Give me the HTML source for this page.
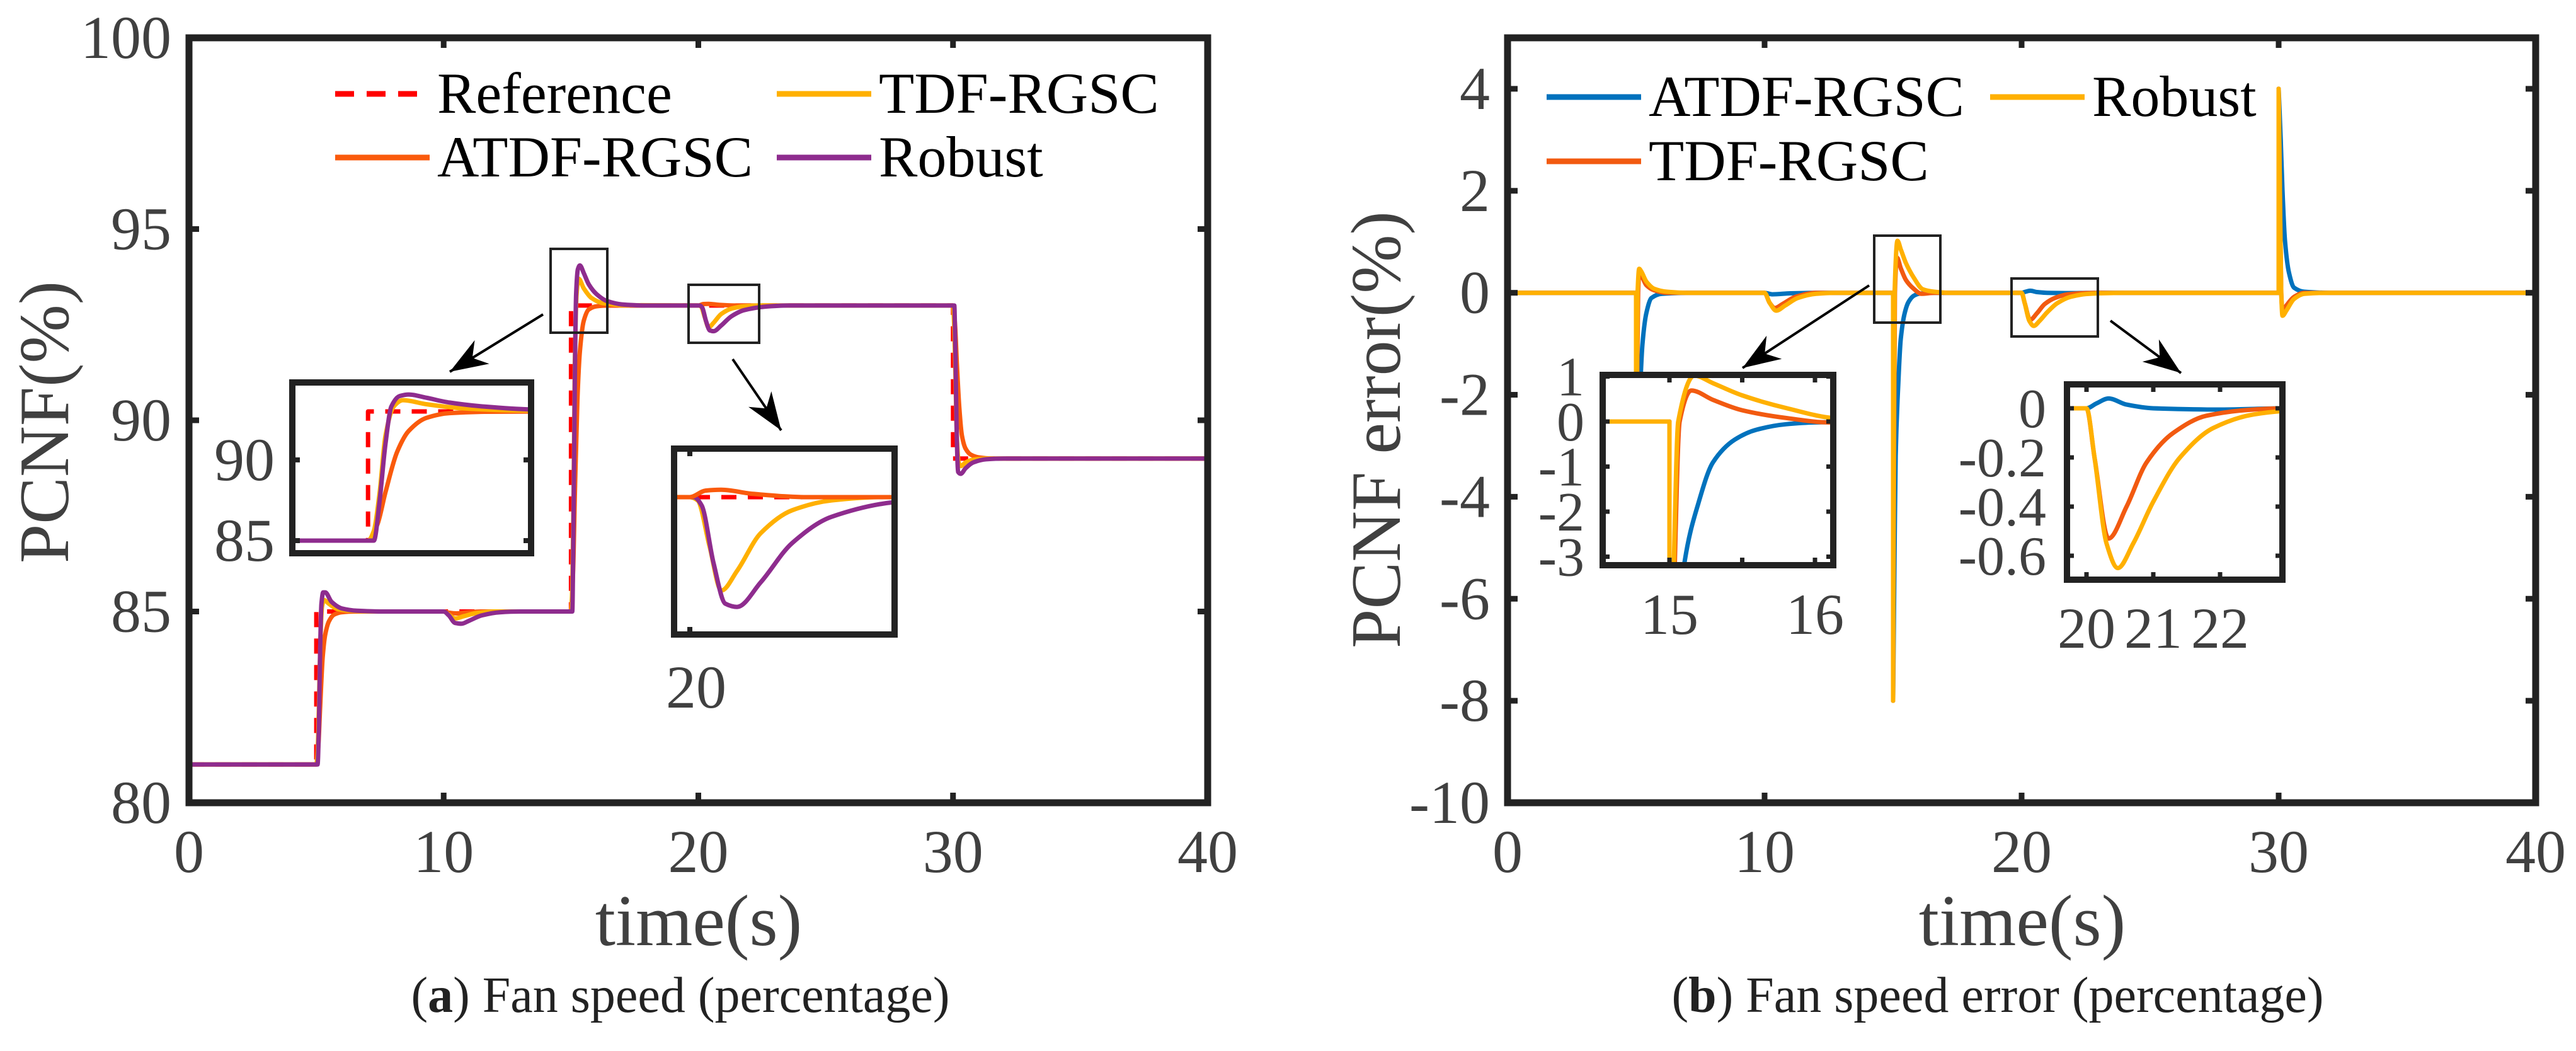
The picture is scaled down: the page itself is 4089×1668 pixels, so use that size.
<!DOCTYPE html>
<html><head><meta charset="utf-8"><style>
html,body{margin:0;padding:0;background:#fff;width:4089px;height:1668px;overflow:hidden;}
svg{display:block;}
text{font-family:"Liberation Serif",serif;}
</style></head>
<body>
<svg id="fig" width="4089" height="1668" viewBox="0 0 4089 1668" xmlns="http://www.w3.org/2000/svg" font-family="Liberation Serif, serif">
<defs>
<clipPath id="cA"><rect x="300" y="60" width="1617" height="1214"/></clipPath>
<clipPath id="cA1"><rect x="464" y="607" width="379" height="271"/></clipPath>
<clipPath id="cA2"><rect x="1070" y="712" width="350" height="295"/></clipPath>
<clipPath id="cB"><rect x="2393" y="60" width="1632" height="1214"/></clipPath>
<clipPath id="cB1"><rect x="2544" y="595" width="366" height="302"/></clipPath>
<clipPath id="cB2"><rect x="3281" y="610" width="342" height="310"/></clipPath>
</defs>
<g id="root"></g>
</svg>
<script>
// ---------- data: panel (a) fan speed ----------
const xTicksMain = [0, 10, 20, 30, 40];
const yTicksA = [80, 85, 90, 95, 100];
const yTicksB = [-10, -8, -6, -4, -2, 0, 2, 4];
const refA = [[0,81],[5,81],[5,85],[15,85],[15,93],[30,93],[30,89],[40,89]];
const atdfA = [[0,81],[5,81],[5.08,81.5],[5.15,82.5],[5.25,83.8],[5.35,84.4],[5.5,84.75],[5.7,84.92],[6,84.98],[6.5,85],
 [10,85],[10.2,84.97],[10.5,84.95],[11,84.98],[11.5,85],
 [15,85],[15.08,86],[15.15,88],[15.25,90.5],[15.35,91.8],[15.5,92.6],[15.7,92.9],[16,92.98],[16.5,93],
 [20,93],[20.2,93.04],[20.4,93.045],[20.8,93.02],[21.5,93],
 [30,93],[30.08,92.5],[30.15,91.5],[30.25,90.3],[30.35,89.6],[30.5,89.25],[30.7,89.1],[31,89.03],[31.5,89],[40,89]];
const tdfA = [[0,81],[5,81],[5.05,81.3],[5.1,82.5],[5.15,84],[5.22,85.1],[5.3,85.3],[5.5,85.2],[5.8,85.07],[6.3,85.02],[7,85],
 [10,85],[10.2,84.92],[10.45,84.82],[10.8,84.88],[11.3,84.96],[12,85],
 [15,85],[15.05,85.6],[15.1,88],[15.15,91.5],[15.22,93.3],[15.3,93.7],[15.5,93.45],[15.8,93.2],[16.2,93.07],[16.4,93.05],[17,93.01],
 [20,93],[20.1,92.98],[20.25,92.7],[20.4,92.43],[20.6,92.55],[20.9,92.78],[21.3,92.92],[21.8,92.98],[22.4,93],
 [30,93],[30.05,92.4],[30.1,91],[30.15,89.6],[30.22,88.9],[30.3,88.8],[30.5,88.9],[30.8,88.97],[31.3,89],[40,89]];
const robustA = [[0,81],[5.05,81],[5.1,82],[5.15,84],[5.2,85.2],[5.27,85.5],[5.35,85.5],[5.6,85.25],[6,85.08],[6.6,85.02],[7.5,85],
 [10,85],[10.2,84.9],[10.45,84.7],[10.7,84.68],[11,84.76],[11.5,84.9],[12.2,84.98],[13,85],
 [15.05,85],[15.1,87.5],[15.15,91],[15.2,93.3],[15.27,93.95],[15.35,94.05],[15.5,93.85],[15.7,93.55],[16,93.3],[16.4,93.12],[17,93.03],[18,93],
 [20.05,93],[20.15,92.95],[20.3,92.6],[20.45,92.35],[20.6,92.33],[20.9,92.48],[21.3,92.72],[21.8,92.88],[22.6,92.97],[23.5,93],
 [30.05,93],[30.1,91.5],[30.15,89.5],[30.2,88.65],[30.3,88.6],[30.5,88.75],[30.8,88.9],[31.3,88.98],[32,89],[40,89]];
// ---------- data: panel (b) fan speed error ----------
const atdfB = [[0,0],[5,0],[5,-4],[5.08,-3],[5.15,-2],[5.25,-1],[5.4,-0.4],[5.6,-0.1],[6,-0.02],[7,0],
 [10,0],[10.3,-0.03],[11,-0.01],[12,0],
 [15,0],[15,-8],[15.06,-5],[15.1,-3.2],[15.2,-1.8],[15.3,-0.9],[15.45,-0.4],[15.6,-0.18],[15.8,-0.06],[16,-0.02],[16.5,0],
 [20,0],[20.15,0.02],[20.33,0.04],[20.6,0.015],[21,0],[22,-0.005],[23,0],
 [30,0],[30,4],[30.08,3],[30.15,2],[30.25,1],[30.4,0.4],[30.6,0.1],[31,0.02],[32,0],[40,0]];
const tdfB = [[0,0],[5,0],[5,-4],[5.04,-2],[5.08,0],[5.13,0.4],[5.2,0.35],[5.4,0.15],[5.7,0.05],[6.2,0],
 [10,0],[10.2,-0.2],[10.4,-0.3],[10.7,-0.22],[11.2,-0.08],[12,0],
 [15,0],[15,-8],[15.03,-4],[15.07,0],[15.15,0.69],[15.3,0.48],[15.5,0.25],[15.8,0.08],[16.1,-0.02],[16.6,0],
 [20,0],[20.12,-0.2],[20.33,-0.53],[20.6,-0.4],[20.9,-0.22],[21.3,-0.1],[21.8,-0.03],[22.5,-0.005],[23,0],
 [30,0],[30,4],[30.05,2],[30.1,0],[30.15,-0.35],[30.3,-0.25],[30.6,-0.08],[31,0],[40,0]];
const robustB = [[0,0],[5,0],[5,-4],[5.03,-2],[5.06,0],[5.12,0.47],[5.2,0.42],[5.4,0.22],[5.7,0.08],[6.2,0.02],[7,0],
 [10,0],[10.2,-0.2],[10.45,-0.35],[10.8,-0.25],[11.3,-0.1],[12,-0.02],[12.8,0],
 [15,0],[15,-8],[15.03,-3.2],[15.06,0],[15.17,1.02],[15.3,0.85],[15.5,0.58],[15.8,0.3],[16.15,0.07],[16.6,0.02],[17.2,0],
 [20,0],[20.12,-0.2],[20.3,-0.55],[20.47,-0.65],[20.7,-0.55],[21,-0.38],[21.4,-0.2],[21.9,-0.08],[22.5,-0.025],[23,-0.01],[24,0],
 [30,0],[30,4],[30.05,2],[30.1,0],[30.15,-0.45],[30.3,-0.35],[30.6,-0.12],[31,-0.02],[32,0],[40,0]];

const NS = "http://www.w3.org/2000/svg";
const root = document.getElementById('root');
function el(tag, attrs, parent) {
  const e = document.createElementNS(NS, tag);
  for (const k in attrs) e.setAttribute(k, attrs[k]);
  (parent || root).appendChild(e);
  return e;
}
function lin(d0, d1, r0, r1) { return v => r0 + (v - d0) / (d1 - d0) * (r1 - r0); }
// monotone cubic path (Fritsch-Carlson), vertical steps drawn straight
function pathD(data, sx, sy, smooth) {
  const n = data.length;
  const P = data.map(p => [sx(p[0]), sy(p[1])]);
  if (!smooth) return P.map((p, i) => (i ? 'L' : 'M') + p[0].toFixed(1) + ',' + p[1].toFixed(1)).join('');
  const d = [];
  for (let i = 0; i < n - 1; i++) { const dx = P[i+1][0] - P[i][0]; d.push(dx > 0.01 ? (P[i+1][1] - P[i][1]) / dx : null); }
  const m = [];
  for (let i = 0; i < n; i++) {
    const a = i > 0 ? d[i-1] : null, b = i < n - 1 ? d[i] : null;
    if (a === null && b === null) m.push(0);
    else if (a === null) m.push(b);
    else if (b === null) m.push(a);
    else if (a * b <= 0) m.push(0);
    else m.push(2 * a * b / (a + b));
  }
  let s = 'M' + P[0][0].toFixed(1) + ',' + P[0][1].toFixed(1);
  for (let i = 0; i < n - 1; i++) {
    const dx = P[i+1][0] - P[i][0];
    if (d[i] === null) { s += 'L' + P[i+1][0].toFixed(1) + ',' + P[i+1][1].toFixed(1); continue; }
    const h = dx / 3;
    s += 'C' + (P[i][0] + h).toFixed(1) + ',' + (P[i][1] + m[i] * h).toFixed(1) + ' ' +
         (P[i+1][0] - h).toFixed(1) + ',' + (P[i+1][1] - m[i+1] * h).toFixed(1) + ' ' +
         P[i+1][0].toFixed(1) + ',' + P[i+1][1].toFixed(1);
  }
  return s;
}
function txt(s, x, y, size, anchor, parent, fill) {
  const t = el('text', {x: x, y: y, 'font-size': size, 'text-anchor': anchor || 'middle', fill: fill || '#404040', 'font-family': 'Liberation Serif, serif'}, parent);
  t.textContent = s; return t;
}
function series(g, data, sx, sy, color, w, dash, name) {
  const p = el('path', {d: pathD(data, sx, sy, !dash), fill: 'none', stroke: color, 'stroke-width': w, 'stroke-linejoin': 'round'}, g);
  if (dash) p.setAttribute('stroke-dasharray', dash);
  
  
  return p;
}
function frame(x0, y0, x1, y1, w, name) {
  const r = el('rect', {x: x0, y: y0, width: x1 - x0, height: y1 - y0, fill: 'none', stroke: '#222', 'stroke-width': w});
  
  
  return r;
}
function whiteBox(x0, y0, x1, y1) { el('rect', {x: x0, y: y0, width: x1 - x0, height: y1 - y0, fill: '#fff'}); }
function arrow(x1, y1, x2, y2, name) {
  const a = el('line', {x1: x1, y1: y1, x2: x2, y2: y2, stroke: '#000', 'stroke-width': 4});
  const dx = x2 - x1, dy = y2 - y1, L = Math.hypot(dx, dy), ux = dx / L, uy = dy / L;
  const bx = x2 - ux * 60, by = y2 - uy * 60;
  const h = el('polygon', {points: `${x2},${y2} ${bx - uy * 22},${by + ux * 22} ${x2 - ux * 42},${y2 - uy * 42} ${bx + uy * 22},${by - ux * 22}`, fill: '#000'});
  
  
  
  
}
function legendEntry(x, y, color, label, dash, name) {
  const g = el('g', {});
  
  
  const l = el('line', {x1: x, y1: y, x2: x + 150, y2: y, stroke: color, 'stroke-width': 9}, g);
  if (dash) l.setAttribute('stroke-dasharray', dash);
  txt(label, x + 162, y + 30, 92, 'start', g, '#000');
}

// ===================== Panel (a) =====================
const AX0 = 300, AX1 = 1917, AY0 = 60, AY1 = 1274;
const sxA = lin(0, 40, AX0, AX1), syA = lin(80, 100, AY1, AY0);
const gA = el('g', {'clip-path': 'url(#cA)'});


series(gA, refA, sxA, syA, '#ff0000', 7, '24,18', 'reference-line');
series(gA, atdfA, sxA, syA, '#fa5a0c', 7, null, 'atdf-rgsc-line');
series(gA, tdfA, sxA, syA, '#ffb000', 7, null, 'tdf-rgsc-line');
series(gA, robustA, sxA, syA, '#8e2c8e', 7, null, 'robust-line');
xTicksMain.forEach(v => {
  const x = sxA(v);
  el('line', {x1: x, y1: AY1, x2: x, y2: AY1 - 16, stroke: '#222', 'stroke-width': 9});
  el('line', {x1: x, y1: AY0, x2: x, y2: AY0 + 16, stroke: '#222', 'stroke-width': 9});
  const t = txt(String(v), x, 1384, 96, 'middle');
  
  
});
yTicksA.forEach(v => {
  const y = syA(v);
  el('line', {x1: AX0, y1: y, x2: AX0 + 16, y2: y, stroke: '#222', 'stroke-width': 9});
  el('line', {x1: AX1, y1: y, x2: AX1 - 16, y2: y, stroke: '#222', 'stroke-width': 9});
  const t = txt(String(v), 272, y + 32, 96, 'end');
  
  
});
frame(AX0, AY0, AX1, AY1, 11, 'axes-frame-a');
frame(874, 395, 964, 528, 4, 'zoom-box-a1');
frame(1093, 452, 1205, 544, 4, 'zoom-box-a2');
arrow(862, 499, 714, 590, 'zoom-arrow-a1');
arrow(1163, 570, 1240, 683, 'zoom-arrow-a2');
// inset a1
whiteBox(459, 602, 848, 883);
const sxA1 = lin(14.35, 16.4, 464, 843), syA1 = lin(85, 93, 858, 653);
const gA1 = el('g', {'clip-path': 'url(#cA1)'});
series(gA1, refA, sxA1, syA1, '#ff0000', 7, '24,18', 'inset-a1-reference');
series(gA1, atdfA, sxA1, syA1, '#fa5a0c', 7, null, 'inset-a1-atdf');
series(gA1, tdfA, sxA1, syA1, '#ffb000', 7, null, 'inset-a1-tdf');
series(gA1, robustA, sxA1, syA1, '#8e2c8e', 7, null, 'inset-a1-robust');
frame(464, 607, 843, 878, 10, 'inset-a1-frame');
[85, 90].forEach(v => {
  el('line', {x1: 464, y1: syA1(v), x2: 476, y2: syA1(v), stroke: '#222', 'stroke-width': 8});
  el('line', {x1: 843, y1: syA1(v), x2: 831, y2: syA1(v), stroke: '#222', 'stroke-width': 8});
  const t = txt(String(v), 436, syA1(v) + 32, 96, 'end');
  
  
});
// inset a2
whiteBox(1065, 707, 1425, 1012);
const sxA2 = lin(19.8, 22.6, 1070, 1420), syA2 = lin(93, 92, 789, 1049);
const gA2 = el('g', {'clip-path': 'url(#cA2)'});
series(gA2, refA, sxA2, syA2, '#ff0000', 7, '24,18', 'inset-a2-reference');
series(gA2, tdfA, sxA2, syA2, '#ffb000', 7, null, 'inset-a2-tdf');
series(gA2, robustA, sxA2, syA2, '#8e2c8e', 7, null, 'inset-a2-robust');
series(gA2, atdfA, sxA2, syA2, '#fa5a0c', 7, null, 'inset-a2-atdf');
frame(1070, 712, 1420, 1007, 10, 'inset-a2-frame');
el('line', {x1: sxA2(20), y1: 712, x2: sxA2(20), y2: 724, stroke: '#222', 'stroke-width': 8});
el('line', {x1: sxA2(20), y1: 1007, x2: sxA2(20), y2: 995, stroke: '#222', 'stroke-width': 8});
{ const t = txt('20', 1105, 1123, 96, 'middle');   }
legendEntry(532, 149, '#ff0000', 'Reference', '30,20', 'legend-reference');
legendEntry(1233, 149, '#ffb000', 'TDF-RGSC', null, 'legend-tdf-rgsc-a');
legendEntry(532, 250, '#fa5a0c', 'ATDF-RGSC', null, 'legend-atdf-rgsc-a');
legendEntry(1233, 250, '#8e2c8e', 'Robust', null, 'legend-robust-a');
{ const t = txt('PCNF(%)', 0, 0, 112, 'middle'); t.setAttribute('transform', 'translate(108,670) rotate(-90)');
    }
{ const t = txt('time(s)', 1109, 1500, 116, 'middle');   }
{ const t = el('text', {x: 1080, y: 1606, 'font-size': 80, 'text-anchor': 'middle', fill: '#222', 'font-family': 'Liberation Serif, serif'});
  t.innerHTML = '(<tspan font-weight="bold">a</tspan>) Fan speed (percentage)';
    }

// ===================== Panel (b) =====================
const BX0 = 2393, BX1 = 4025, BY0 = 60, BY1 = 1274;
const sxB = lin(0, 40, BX0, BX1), syB = lin(-10, 5, BY1, BY0);
const gB = el('g', {'clip-path': 'url(#cB)'});


series(gB, atdfB, sxB, syB, '#0072bd', 7, null, 'error-atdf-rgsc-line');
series(gB, tdfB, sxB, syB, '#f25a10', 7, null, 'error-tdf-rgsc-line');
series(gB, robustB, sxB, syB, '#ffb000', 7, null, 'error-robust-line');
xTicksMain.forEach(v => {
  const x = sxB(v);
  el('line', {x1: x, y1: BY1, x2: x, y2: BY1 - 16, stroke: '#222', 'stroke-width': 9});
  el('line', {x1: x, y1: BY0, x2: x, y2: BY0 + 16, stroke: '#222', 'stroke-width': 9});
  const t = txt(String(v), x, 1384, 96, 'middle');
  
  
});
yTicksB.forEach(v => {
  const y = syB(v);
  el('line', {x1: BX0, y1: y, x2: BX0 + 16, y2: y, stroke: '#222', 'stroke-width': 9});
  el('line', {x1: BX1, y1: y, x2: BX1 - 16, y2: y, stroke: '#222', 'stroke-width': 9});
  const t = txt(String(v), 2365, y + 32, 96, 'end');
  
  
});
frame(BX0, BY0, BX1, BY1, 11, 'axes-frame-b');
frame(2975, 374, 3080, 512, 4, 'zoom-box-b1');
frame(3193, 442, 3330, 534, 4, 'zoom-box-b2');
arrow(2967, 453, 2766, 584, 'zoom-arrow-b1');
arrow(3350, 509, 3462, 592, 'zoom-arrow-b2');
// inset b1
whiteBox(2539, 590, 2915, 902);
const sxB1 = lin(15, 16, 2650, 2881), syB1 = lin(0, 1, 669, 597.5);
const gB1 = el('g', {'clip-path': 'url(#cB1)'});
series(gB1, atdfB, sxB1, syB1, '#0072bd', 7, null, 'inset-b1-atdf');
series(gB1, tdfB, sxB1, syB1, '#f25a10', 7, null, 'inset-b1-tdf');
series(gB1, robustB, sxB1, syB1, '#ffb000', 7, null, 'inset-b1-robust');
frame(2544, 595, 2910, 897, 10, 'inset-b1-frame');
[15, 15.5, 16].forEach(v => {
  el('line', {x1: sxB1(v), y1: 897, x2: sxB1(v), y2: 885, stroke: '#222', 'stroke-width': 7});
  el('line', {x1: sxB1(v), y1: 595, x2: sxB1(v), y2: 607, stroke: '#222', 'stroke-width': 7});
});
[15, 16].forEach(v => { const t = txt(String(v), sxB1(v), 1006, 92, 'middle');   });
[1, 0, -1, -2, -3].forEach(v => {
  el('line', {x1: 2544, y1: syB1(v), x2: 2555, y2: syB1(v), stroke: '#222', 'stroke-width': 7});
  el('line', {x1: 2910, y1: syB1(v), x2: 2899, y2: syB1(v), stroke: '#222', 'stroke-width': 7});
  const t = txt(String(v), 2515, syB1(v) + 30, 88, 'end');
   
});
// inset b2
whiteBox(3276, 605, 3628, 925);
const sxB2 = lin(20, 21, 3312, 3418), syB2 = lin(0, -0.6, 648, 882);
const gB2 = el('g', {'clip-path': 'url(#cB2)'});
series(gB2, atdfB, sxB2, syB2, '#0072bd', 7, null, 'inset-b2-atdf');
series(gB2, tdfB, sxB2, syB2, '#f25a10', 7, null, 'inset-b2-tdf');
series(gB2, robustB, sxB2, syB2, '#ffb000', 7, null, 'inset-b2-robust');
frame(3281, 610, 3623, 920, 10, 'inset-b2-frame');
[20, 21, 22].forEach(v => {
  el('line', {x1: sxB2(v), y1: 920, x2: sxB2(v), y2: 908, stroke: '#222', 'stroke-width': 7});
  el('line', {x1: sxB2(v), y1: 610, x2: sxB2(v), y2: 622, stroke: '#222', 'stroke-width': 7});
  const t = txt(String(v), sxB2(v), 1028, 92, 'middle');  
});
[0, -0.2, -0.4, -0.6].forEach(v => {
  el('line', {x1: 3281, y1: syB2(v), x2: 3292, y2: syB2(v), stroke: '#222', 'stroke-width': 7});
  el('line', {x1: 3623, y1: syB2(v), x2: 3612, y2: syB2(v), stroke: '#222', 'stroke-width': 7});
  const t = txt(String(v), 3248, syB2(v) + 30, 88, 'end');
   
});
legendEntry(2455, 154, '#0072bd', 'ATDF-RGSC', null, 'legend-atdf-rgsc-b');
legendEntry(3159, 154, '#ffb000', 'Robust', null, 'legend-robust-b');
legendEntry(2455, 256, '#f25a10', 'TDF-RGSC', null, 'legend-tdf-rgsc-b');
{ const t = txt('PCNF error(%)', 0, 0, 112, 'middle'); t.setAttribute('transform', 'translate(2222,682) rotate(-90)');
    }
{ const t = txt('time(s)', 3210, 1500, 116, 'middle');   }
{ const t = el('text', {x: 3171, y: 1606, 'font-size': 80, 'text-anchor': 'middle', fill: '#222', 'font-family': 'Liberation Serif, serif'});
  t.innerHTML = '(<tspan font-weight="bold">b</tspan>) Fan speed error (percentage)';
    }
</script>
</body></html>
